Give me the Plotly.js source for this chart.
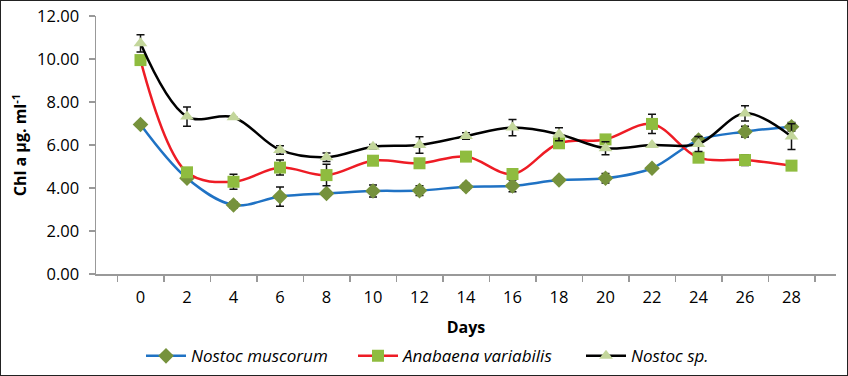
<!DOCTYPE html>
<html><head><meta charset="utf-8">
<script src="https://cdn.plot.ly/plotly-3.0.1.min.js"></script>
<style>html,body{margin:0;padding:0;background:#fff}#wrap{width:846px;height:374px;border:1px solid #222;position:relative}#chart{width:846px;height:374px}</style>
</head><body><div id="wrap"><div id="chart"></div></div>
<script>
const days = ["0","2","4","6","8","10","12","14","16","18","20","22","24","26","28"];
const muscorum = [6.95,4.45,3.21,3.60,3.75,3.86,3.88,4.06,4.10,4.37,4.45,4.92,6.23,6.62,6.85];
const muscorumErr = [0,0,0.15,0.45,0.12,0.28,0.23,0.15,0.27,0.05,0.22,0.1,0.15,0.25,0.2];
const anabaena = [9.95,4.73,4.29,4.95,4.60,5.27,5.15,5.46,4.65,6.08,6.26,6.98,5.41,5.30,5.04];
const anabaenaErr = [0.15,0,0.35,0.35,0.5,0,0,0,0,0,0,0.45,0.15,0.25,0];
const nostocSp = [10.73,7.32,7.29,5.77,5.43,5.92,6.00,6.42,6.81,6.50,5.85,6.00,6.05,7.47,6.39];
const nostocSpErr = [0.4,0.45,0,0.2,0.2,0.1,0.38,0.15,0.38,0.3,0.3,0,0.35,0.35,0.6];
const names = ["Nostoc muscorum","Anabaena variabilis","Nostoc sp."];

function tr(y, err, name, lc, sym, mc, ms, lg){
  return {x: days, y: y, name: name, type:'scatter', mode:'lines+markers', legend: lg,
    line:{color:lc, width:2.5, shape:'spline', smoothing:1},
    marker:{symbol:sym, color:mc, size:ms},
    error_y:{type:'data', array:err, visible:true, color:'#111', thickness:1.5, width:4}};
}
const data = [
  tr(muscorum, muscorumErr, names[0], '#1f72c4', 'diamond', '#76923c', 12, 'legend'),
  tr(anabaena, anabaenaErr, names[1], '#ee1c25', 'square', '#8fbc3f', 12, 'legend2'),
  tr(nostocSp, nostocSpErr, names[2], '#000000', 'triangle-up', '#c3d69b', 12, 'legend3')
];
function lg(px){
  return {orientation:'h', x:px/846, xanchor:'left', xref:'container', y:0.05, yanchor:'middle', yref:'container',
    font:{size:17, style:'italic'}, itemwidth:40, bgcolor:'rgba(0,0,0,0)'};
}
const layout = {
  width:846, height:374, paper_bgcolor:'#fff', plot_bgcolor:'#fff',
  margin:{l:95, r:11, t:15, b:101, autoexpand:false},
  font:{family:'Open Sans, Liberation Sans, sans-serif', size:15, color:'#000'},
  showlegend:true,
  legend: lg(140), legend2: lg(352), legend3: lg(580),
  xaxis:{type:'category', showline:true, linecolor:'#999', linewidth:1.5,
    ticks:'outside', tickson:'boundaries', ticklen:6, tickcolor:'#999', tickwidth:1.5,
    showgrid:false, zeroline:false, tickfont:{size:16.5}, ticklabelstandoff:8,
    title:{text:'<b>Days</b>', font:{size:16}, standoff:14}},
  yaxis:{range:[0,12], dtick:2, tickformat:'.2f', showline:true, linecolor:'#999', linewidth:1.5,
    ticks:'outside', ticklen:6, tickcolor:'#999', tickwidth:1.5, showgrid:false, zeroline:false,
    tickfont:{size:16.5}, ticklabelstandoff:6,
    title:{text:'<b>Chl a µg. ml<sup>-1</sup></b>', font:{size:16}, standoff:6}}
};
Plotly.newPlot('chart', data, layout, {displayModeBar:false, staticPlot:true});
</script></body></html>
